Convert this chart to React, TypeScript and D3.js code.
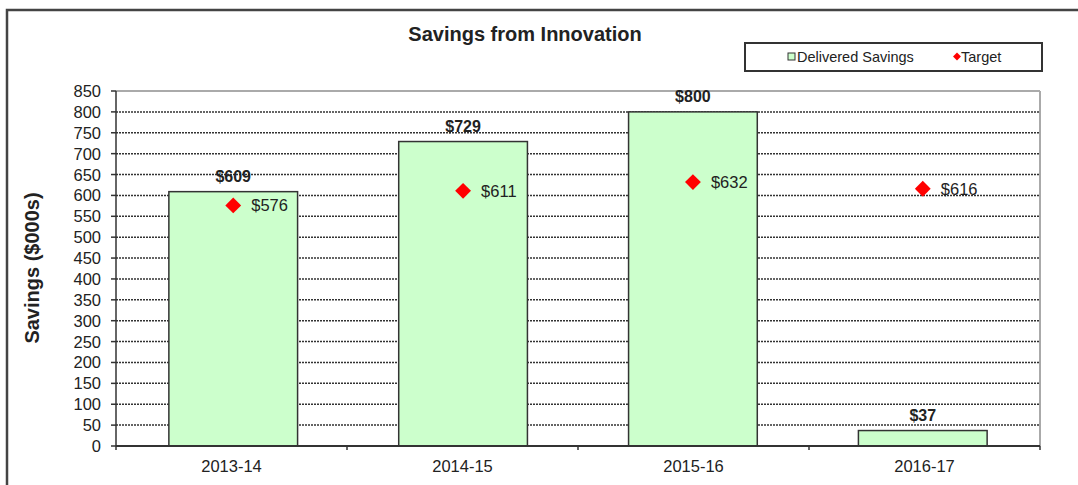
import React from "react";
import * as d3 from "d3";

const categories = ["2013-14", "2014-15", "2015-16", "2016-17"];
const delivered = [609, 729, 800, 37];
const target = [576, 611, 632, 616];
const yTicks = d3.range(0, 851, 50);

const W = 1078;
const H = 485;
const M = { left: 116, right: 1040, top: 91, bottom: 446 };
const FONT = "'Liberation Sans', Arial, sans-serif";
const TXT = "#222";

export default function App() {
  const x = d3.scaleBand<string>().domain(categories).range([M.left, M.right]).paddingInner(0.44).paddingOuter(0.23);
  const xb = d3.scaleBand<string>().domain(categories).range([M.left, M.right]);
  const y = d3.scaleLinear().domain([0, 850]).range([M.bottom, M.top]);
  const diamond = d3.symbol().type(d3.symbolDiamond2).size(160)();

  return (
    <svg width={W} height={H} style={{ position: "absolute", left: 0, top: 0, background: "#fff" }} fontFamily={FONT}>
      {/* outer frame */}
      <rect x={7} y={10} width={W} height={H} fill="#fff" stroke="#444" strokeWidth={2.5} />
      {/* title */}
      <text x={525} y={41} textAnchor="middle" fontSize={20} fontWeight="bold" fill={TXT}>Savings from Innovation</text>
      {/* legend */}
      <rect x={745} y={43} width={297} height={28} fill="#fff" stroke="#333" strokeWidth={2} />
      <rect x={788} y={53} width={7} height={7} fill="#ccffcc" stroke="#333" strokeWidth={1} />
      <text x={797} y={62} fontSize={14.5} fill={TXT}>Delivered Savings</text>
      <path d={d3.symbol().type(d3.symbolDiamond2).size(40)()!} transform="translate(957,56.5)" fill="red" />
      <text x={961} y={62} fontSize={14.5} fill={TXT}>Target</text>
      {/* plot area border */}
      <line x1={M.left} x2={M.right} y1={M.top} y2={M.top} stroke="#aaa" strokeWidth={2} />
      <line x1={M.right} x2={M.right} y1={M.top} y2={M.bottom} stroke="#aaa" strokeWidth={2} />
      {/* gridlines */}
      {yTicks.filter((t) => t > 0 && t < 850).map((t) => (
        <line key={t} x1={M.left} x2={M.right} y1={y(t)} y2={y(t)} stroke="#333" strokeWidth={1.5} strokeDasharray="2,1" />
      ))}
      {/* bars */}
      {categories.map((c, i) => (
        <rect key={c} x={x(c)} y={y(delivered[i])} width={x.bandwidth()} height={y(0) - y(delivered[i])} fill="#ccffcc" stroke="#333" strokeWidth={1.5} />
      ))}
      {/* bar labels */}
      {categories.map((c, i) => (
        <text key={c} x={x(c)! + x.bandwidth() / 2} y={y(delivered[i]) - 10} textAnchor="middle" fontSize={16} fontWeight="bold" fill={TXT}>${delivered[i]}</text>
      ))}
      {/* targets */}
      {categories.map((c, i) => (
        <g key={c} transform={`translate(${x(c)! + x.bandwidth() / 2},${y(target[i])})`}>
          <path d={diamond!} fill="red" />
          <text x={18} y={6} fontSize={16.5} fill={TXT}>${target[i]}</text>
        </g>
      ))}
      {/* y axis */}
      <line x1={M.left} x2={M.left} y1={M.top} y2={M.bottom} stroke="#333" strokeWidth={1.5} />
      {yTicks.map((t) => (
        <g key={t}>
          <line x1={M.left - 5} x2={M.left} y1={y(t)} y2={y(t)} stroke="#333" strokeWidth={1.5} />
          <text x={M.left - 15} y={y(t) + 6} textAnchor="end" fontSize={16.5} fill={TXT}>{t}</text>
        </g>
      ))}
      {/* x axis */}
      <line x1={M.left} x2={M.right} y1={M.bottom} y2={M.bottom} stroke="#333" strokeWidth={2} />
      {categories.map((c) => (
        <g key={c}>
          <line x1={xb(c)! + xb.bandwidth()} x2={xb(c)! + xb.bandwidth()} y1={M.bottom} y2={M.bottom + 4} stroke="#333" strokeWidth={1.5} />
          <text x={xb(c)! + xb.bandwidth() / 2} y={M.bottom + 26} textAnchor="middle" fontSize={16.5} fill={TXT}>{c}</text>
        </g>
      ))}
      <line x1={M.left} x2={M.left} y1={M.bottom} y2={M.bottom + 4} stroke="#333" strokeWidth={1.5} />
      {/* y title */}
      <text transform="translate(39,268) rotate(-90)" textAnchor="middle" fontSize={20} fontWeight="bold" fill={TXT}>Savings ($000s)</text>
    </svg>
  );
}
